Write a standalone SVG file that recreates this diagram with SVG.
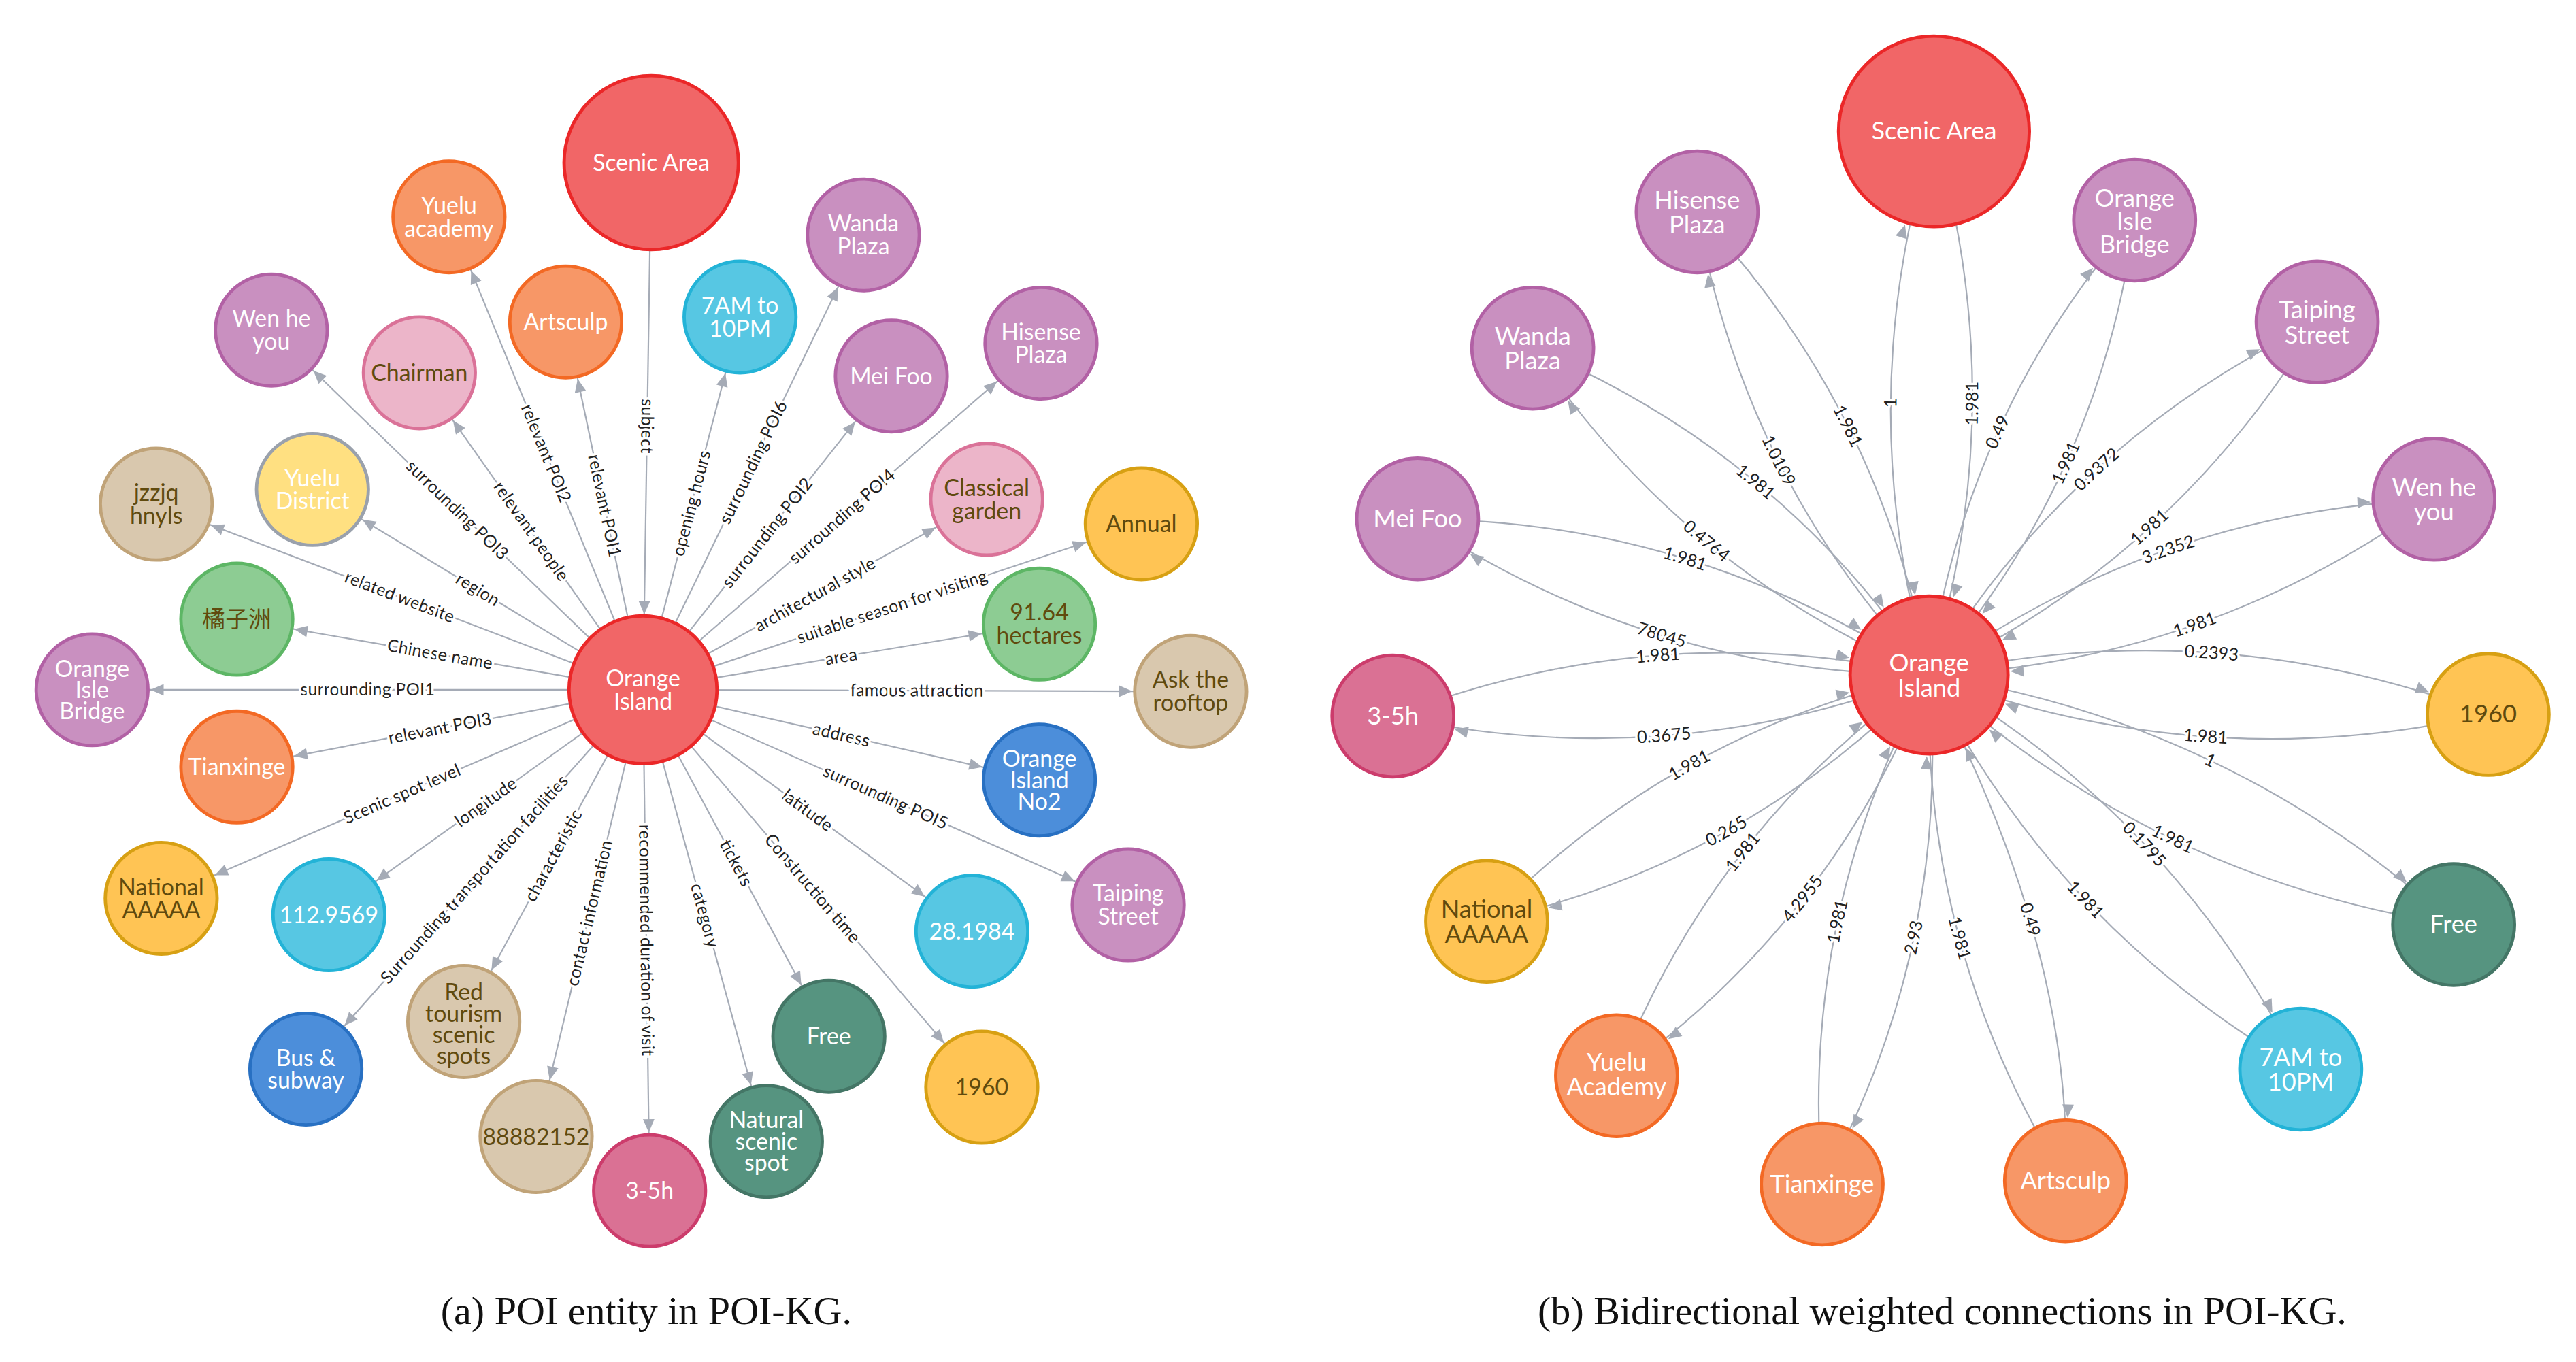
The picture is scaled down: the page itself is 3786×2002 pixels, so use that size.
<svg xmlns="http://www.w3.org/2000/svg" width="3786" height="2002" viewBox="0 0 3786 2002">
<style>
.e{fill:none;stroke:#A5ABB6;stroke-width:0.9}
.el{font-family:Lato,"Open Sans",sans-serif;font-size:10.5px;fill:#222;stroke:#fff;stroke-width:3px;paint-order:stroke;text-anchor:middle}
.er{font-family:Lato,"Open Sans",sans-serif;font-size:10.5px;fill:#222;stroke:#fff;stroke-width:3px;paint-order:stroke;text-anchor:middle}
.t{font-family:Lato,"Open Sans","Noto Sans CJK SC",sans-serif;font-size:14px;text-anchor:middle;fill:#fff}
.t2{font-family:Lato,"Open Sans",sans-serif;font-size:15px;text-anchor:middle;fill:#fff}
.dk{fill:#604A0E}
.red{fill:#F16667;stroke:#EB2728;stroke-width:2}
.org{fill:#F79767;stroke:#F36924;stroke-width:2}
.pur{fill:#C990C0;stroke:#B261A5;stroke-width:2}
.pnk{fill:#ECB5C9;stroke:#DA7298;stroke-width:2}
.cyn{fill:#57C7E3;stroke:#23B3D7;stroke-width:2}
.tan{fill:#D9C8AE;stroke:#C0A378;stroke-width:2}
.yel{fill:#FFC454;stroke:#D7A013;stroke-width:2}
.grn{fill:#8DCC93;stroke:#5DB665;stroke-width:2}
.blu{fill:#4C8EDA;stroke:#2870C2;stroke-width:2}
.dgr{fill:#569480;stroke:#447666;stroke-width:2}
.mag{fill:#DA7194;stroke:#CC3C6C;stroke-width:2}
.yd{fill:#FFE081;stroke:#9AA1AC;stroke-width:2}
.cap{font-family:"Liberation Serif",serif;font-size:24px;fill:#111;text-anchor:middle}
</style>
<defs>
<marker id="m34" markerUnits="userSpaceOnUse" orient="auto-start-reverse" overflow="visible" refX="0" refY="0" markerWidth="1" markerHeight="1"><path d="M-35.5,0 L-43.5,-3.5 L-43.5,3.5 z" fill="#A5ABB6"/></marker>
<marker id="m45" markerUnits="userSpaceOnUse" orient="auto-start-reverse" overflow="visible" refX="0" refY="0" markerWidth="1" markerHeight="1"><path d="M-46,0 L-54,-3.5 L-54,3.5 z" fill="#A5ABB6"/></marker>
<marker id="m37" markerUnits="userSpaceOnUse" orient="auto-start-reverse" overflow="visible" refX="0" refY="0" markerWidth="1" markerHeight="1"><path d="M-38.5,0 L-46.5,-3.5 L-46.5,3.5 z" fill="#A5ABB6"/></marker>
<marker id="m48" markerUnits="userSpaceOnUse" orient="auto-start-reverse" overflow="visible" refX="0" refY="0" markerWidth="1" markerHeight="1"><path d="M-49.5,0 L-57.5,-3.5 L-57.5,3.5 z" fill="#A5ABB6"/></marker>
<marker id="m58" markerUnits="userSpaceOnUse" orient="auto-start-reverse" overflow="visible" refX="0" refY="0" markerWidth="1" markerHeight="1"><path d="M-59.5,0 L-67.5,-3.5 L-67.5,3.5 z" fill="#A5ABB6"/></marker>
</defs>
<rect width="3786" height="2002" fill="#fff"/>
<g transform="scale(2.417,2.414)">
<g id="connectors">
<path id="e1" class="e" d="M165,201 L391,420" marker-start="url(#m34)"/>
<path id="e2" class="e" d="M273,132 L391,420" marker-start="url(#m34)"/>
<path id="e3" class="e" d="M255,227 L391,420" marker-start="url(#m34)"/>
<path id="e4" class="e" d="M344,196 L391,420" marker-start="url(#m34)"/>
<path id="e5" class="e" d="M396,99 L391,420" marker-end="url(#m45)"/>
<path id="e6" class="e" d="M391,420 L450,193" marker-end="url(#m34)"/>
<path id="e7" class="e" d="M391,420 L525,143" marker-end="url(#m34)"/>
<path id="e8" class="e" d="M391,420 L542,229" marker-end="url(#m34)"/>
<path id="e9" class="e" d="M391,420 L633,209" marker-end="url(#m34)"/>
<path id="e10" class="e" d="M391,420 L600,304" marker-end="url(#m34)"/>
<path id="e11" class="e" d="M391,420 L694,319" marker-end="url(#m34)"/>
<path id="e12" class="e" d="M391,420 L632,380" marker-end="url(#m34)"/>
<path id="e13" class="e" d="M391,420 L724,421" marker-end="url(#m34)"/>
<path id="e14" class="e" d="M391,420 L632,475" marker-end="url(#m34)"/>
<path id="e15" class="e" d="M391,420 L686,551" marker-end="url(#m34)"/>
<path id="e16" class="e" d="M391,420 L591,567" marker-end="url(#m34)"/>
<path id="e17" class="e" d="M391,420 L597,662" marker-end="url(#m34)"/>
<path id="e18" class="e" d="M391,420 L504,631" marker-end="url(#m34)"/>
<path id="e19" class="e" d="M391,420 L466,695" marker-end="url(#m34)"/>
<path id="e20" class="e" d="M391,420 L395,725" marker-end="url(#m34)"/>
<path id="e21" class="e" d="M326,692 L391,420" marker-start="url(#m34)"/>
<path id="e22" class="e" d="M282,622 L391,420" marker-start="url(#m34)"/>
<path id="e23" class="e" d="M186,651 L391,420" marker-start="url(#m34)"/>
<path id="e24" class="e" d="M200,557 L391,420" marker-start="url(#m34)"/>
<path id="e25" class="e" d="M98,547 L391,420" marker-start="url(#m34)"/>
<path id="e26" class="e" d="M144,467 L391,420" marker-start="url(#m34)"/>
<path id="e27" class="e" d="M56,420 L391,420" marker-start="url(#m34)"/>
<path id="e28" class="e" d="M144,377 L391,420" marker-start="url(#m34)"/>
<path id="e29" class="e" d="M95,307 L391,420" marker-start="url(#m34)"/>
<path id="e30" class="e" d="M190,298 L391,420" marker-start="url(#m34)"/>
<text class="el" dy="3.5"><textPath href="#e1" startOffset="50%">surrounding POI3</textPath></text>
<text class="el" dy="3.5"><textPath href="#e2" startOffset="50%">relevant POI2</textPath></text>
<text class="el" dy="3.5"><textPath href="#e3" startOffset="50%">relevant people</textPath></text>
<text class="el" dy="3.5"><textPath href="#e4" startOffset="50%">relevant POI1</textPath></text>
<text class="el" dy="3.5"><textPath href="#e5" startOffset="50%">subject</textPath></text>
<text class="el" dy="3.5"><textPath href="#e6" startOffset="50%">opening hours</textPath></text>
<text class="el" dy="3.5"><textPath href="#e7" startOffset="50%">surrounding POI6</textPath></text>
<text class="el" dy="3.5"><textPath href="#e8" startOffset="50%">surrounding POI2</textPath></text>
<text class="el" dy="3.5"><textPath href="#e9" startOffset="50%">surrounding POI4</textPath></text>
<text class="el" dy="3.5"><textPath href="#e10" startOffset="50%">architectural style</textPath></text>
<text class="el" dy="3.5"><textPath href="#e11" startOffset="50%">suitable season for visiting</textPath></text>
<text class="el" dy="3.5"><textPath href="#e12" startOffset="50%">area</textPath></text>
<text class="el" dy="3.5"><textPath href="#e13" startOffset="50%">famous attraction</textPath></text>
<text class="el" dy="3.5"><textPath href="#e14" startOffset="50%">address</textPath></text>
<text class="el" dy="3.5"><textPath href="#e15" startOffset="50%">surrounding POI5</textPath></text>
<text class="el" dy="3.5"><textPath href="#e16" startOffset="50%">latitude</textPath></text>
<text class="el" dy="3.5"><textPath href="#e17" startOffset="50%">Construction time</textPath></text>
<text class="el" dy="3.5"><textPath href="#e18" startOffset="50%">tickets</textPath></text>
<text class="el" dy="3.5"><textPath href="#e19" startOffset="50%">category</textPath></text>
<text class="el" dy="3.5"><textPath href="#e20" startOffset="50%">recommended duration of visit</textPath></text>
<text class="el" dy="3.5"><textPath href="#e21" startOffset="50%">contact information</textPath></text>
<text class="el" dy="3.5"><textPath href="#e22" startOffset="50%">characteristic</textPath></text>
<text class="el" dy="3.5"><textPath href="#e23" startOffset="50%">Surrounding transportation facilities</textPath></text>
<text class="el" dy="3.5"><textPath href="#e24" startOffset="50%">longitude</textPath></text>
<text class="el" dy="3.5"><textPath href="#e25" startOffset="50%">Scenic spot level</textPath></text>
<text class="el" dy="3.5"><textPath href="#e26" startOffset="50%">relevant POI3</textPath></text>
<text class="el" dy="3.5"><textPath href="#e27" startOffset="50%">surrounding POI1</textPath></text>
<text class="el" dy="3.5"><textPath href="#e28" startOffset="50%">Chinese name</textPath></text>
<text class="el" dy="3.5"><textPath href="#e29" startOffset="50%">related website</textPath></text>
<text class="el" dy="3.5"><textPath href="#e30" startOffset="50%">region</textPath></text>

<path id="r1a" class="e" d="M1173,411 Q1224.2,246 1176,80" marker-start="url(#m48)"/>
<path id="r1b" class="e" d="M1173,411 Q1124.9,245.1 1176,80" marker-end="url(#m58)"/>
<path id="r2a" class="e" d="M1032,129 Q1060.2,291.2 1173,411" marker-start="url(#m37)"/>
<path id="r2b" class="e" d="M1032,129 Q1144.8,248.8 1173,411" marker-end="url(#m48)"/>
<path id="r3a" class="e" d="M932,212 Q1022.6,347.7 1173,411" marker-start="url(#m37)"/>
<path id="r3b" class="e" d="M932,212 Q1082.4,275.3 1173,411" marker-end="url(#m48)"/>
<path id="r4a" class="e" d="M862,316 Q1003.2,410.2 1173,411" marker-start="url(#m37)"/>
<path id="r4b" class="e" d="M862,316 Q1031.8,316.8 1173,411" marker-end="url(#m48)"/>
<path id="r5a" class="e" d="M847,436 Q1013.8,472.4 1173,411" marker-start="url(#m37)"/>
<path id="r5b" class="e" d="M847,436 Q1006.3,374.6 1173,411" marker-end="url(#m48)"/>
<path id="r6a" class="e" d="M904,561 Q1061,526.4 1173,411" marker-start="url(#m37)"/>
<path id="r6b" class="e" d="M904,561 Q1016,445.6 1173,411" marker-end="url(#m48)"/>
<path id="r7a" class="e" d="M983,655 Q1114.6,561.5 1173,411" marker-start="url(#m37)"/>
<path id="r7b" class="e" d="M983,655 Q1041.4,504.5 1173,411" marker-end="url(#m48)"/>
<path id="r8a" class="e" d="M1108,721 Q1187,575.8 1173,411" marker-start="url(#m37)"/>
<path id="r8b" class="e" d="M1108,721 Q1094,556.3 1173,411" marker-end="url(#m48)"/>
<path id="r9a" class="e" d="M1173,411 Q1168.3,577.5 1256,719" marker-start="url(#m48)"/>
<path id="r9b" class="e" d="M1173,411 Q1260.7,577.5 1256,719" marker-end="url(#m37)"/>
<path id="r10a" class="e" d="M1173,411 Q1250,564.9 1399,651" marker-start="url(#m48)"/>
<path id="r10b" class="e" d="M1173,411 Q1322,497.1 1399,651" marker-end="url(#m37)"/>
<path id="r11a" class="e" d="M1173,411 Q1309.7,534.9 1492,563" marker-start="url(#m48)"/>
<path id="r11b" class="e" d="M1173,411 Q1355.3,439.1 1492,563" marker-end="url(#m37)"/>
<path id="r12a" class="e" d="M1173,411 Q1339.4,474 1513,435" marker-start="url(#m48)"/>
<path id="r12b" class="e" d="M1173,411 Q1346.6,372 1513,435" marker-end="url(#m37)"/>
<path id="r13a" class="e" d="M1173,411 Q1342.5,403.5 1480,304" marker-start="url(#m48)"/>
<path id="r13b" class="e" d="M1173,411 Q1310.5,311.5 1480,304" marker-end="url(#m37)"/>
<path id="r14a" class="e" d="M1173,411 Q1323.3,338.9 1409,196" marker-start="url(#m48)"/>
<path id="r14b" class="e" d="M1173,411 Q1258.7,268.1 1409,196" marker-end="url(#m37)"/>
<path id="r15a" class="e" d="M1173,411 Q1277.1,291.3 1298,134" marker-start="url(#m48)"/>
<path id="r15b" class="e" d="M1173,411 Q1193.9,253.8 1298,134" marker-end="url(#m37)"/>
<text class="er" dy="3.5"><textPath href="#r1a" startOffset="50%">1.981</textPath></text>
<text class="er" dy="3.5"><textPath href="#r1b" startOffset="50%">1</textPath></text>
<text class="er" dy="3.5"><textPath href="#r2a" startOffset="50%">1.0109</textPath></text>
<text class="er" dy="3.5"><textPath href="#r2b" startOffset="50%">1.981</textPath></text>
<text class="er" dy="3.5"><textPath href="#r3a" startOffset="50%">0.4764</textPath></text>
<text class="er" dy="3.5"><textPath href="#r3b" startOffset="50%">1.981</textPath></text>
<text class="er" dy="3.5"><textPath href="#r4a" startOffset="50%">78045</textPath></text>
<text class="er" dy="3.5"><textPath href="#r4b" startOffset="50%">1.981</textPath></text>
<text class="er" dy="3.5"><textPath href="#r5a" startOffset="50%">0.3675</textPath></text>
<text class="er" dy="3.5"><textPath href="#r5b" startOffset="50%">1.981</textPath></text>
<text class="er" dy="3.5"><textPath href="#r6a" startOffset="50%">0.265</textPath></text>
<text class="er" dy="3.5"><textPath href="#r6b" startOffset="50%">1.981</textPath></text>
<text class="er" dy="3.5"><textPath href="#r7a" startOffset="50%">4.2955</textPath></text>
<text class="er" dy="3.5"><textPath href="#r7b" startOffset="50%">1.981</textPath></text>
<text class="er" dy="3.5"><textPath href="#r8a" startOffset="50%">2.93</textPath></text>
<text class="er" dy="3.5"><textPath href="#r8b" startOffset="50%">1.981</textPath></text>
<text class="er" dy="3.5"><textPath href="#r9a" startOffset="50%">1.981</textPath></text>
<text class="er" dy="3.5"><textPath href="#r9b" startOffset="50%">0.49</textPath></text>
<text class="er" dy="3.5"><textPath href="#r10a" startOffset="50%">1.981</textPath></text>
<text class="er" dy="3.5"><textPath href="#r10b" startOffset="50%">0.1795</textPath></text>
<text class="er" dy="3.5"><textPath href="#r11a" startOffset="50%">1.981</textPath></text>
<text class="er" dy="3.5"><textPath href="#r11b" startOffset="50%">1</textPath></text>
<text class="er" dy="3.5"><textPath href="#r12a" startOffset="50%">1.981</textPath></text>
<text class="er" dy="3.5"><textPath href="#r12b" startOffset="50%">0.2393</textPath></text>
<text class="er" dy="3.5"><textPath href="#r13a" startOffset="50%">1.981</textPath></text>
<text class="er" dy="3.5"><textPath href="#r13b" startOffset="50%">3.2352</textPath></text>
<text class="er" dy="3.5"><textPath href="#r14a" startOffset="50%">1.981</textPath></text>
<text class="er" dy="3.5"><textPath href="#r14b" startOffset="50%">0.9372</textPath></text>
<text class="er" dy="3.5"><textPath href="#r15a" startOffset="50%">1.981</textPath></text>
<text class="er" dy="3.5"><textPath href="#r15b" startOffset="50%">0.49</textPath></text>
</g>

<g id="a-scenic"><circle class="red" cx="396" cy="99" r="53"/><text class="t" x="396" y="104">Scenic Area</text></g>
<g id="a-center"><circle class="red" cx="391" cy="420" r="45"/><text class="t" x="391" y="418">Orange</text><text class="t" x="391" y="432">Island</text></g>
<g id="a-yuelu-academy"><circle class="org" cx="273" cy="132" r="34"/><text class="t" x="273" y="130">Yuelu</text><text class="t" x="273" y="144">academy</text></g>
<g id="a-artsculp"><circle class="org" cx="344" cy="196" r="34"/><text class="t" x="344" y="201">Artsculp</text></g>
<g id="a-wenheyou"><circle class="pur" cx="165" cy="201" r="34"/><text class="t" x="165" y="199">Wen he</text><text class="t" x="165" y="213">you</text></g>
<g id="a-chairman"><circle class="pnk" cx="255" cy="227" r="34"/><text class="t dk" x="255" y="232">Chairman</text></g>
<g id="a-7am"><circle class="cyn" cx="450" cy="193" r="34"/><text class="t" x="450" y="191">7AM to</text><text class="t" x="450" y="205">10PM</text></g>
<g id="a-wanda"><circle class="pur" cx="525" cy="143" r="34"/><text class="t" x="525" y="141">Wanda</text><text class="t" x="525" y="155">Plaza</text></g>
<g id="a-meifoo"><circle class="pur" cx="542" cy="229" r="34"/><text class="t" x="542" y="234">Mei Foo</text></g>
<g id="a-hisense"><circle class="pur" cx="633" cy="209" r="34"/><text class="t" x="633" y="207">Hisense</text><text class="t" x="633" y="221">Plaza</text></g>
<g id="a-jzzjq"><circle class="tan" cx="95" cy="307" r="34"/><text class="t dk" x="95" y="305">jzzjq</text><text class="t dk" x="95" y="319">hnyls</text></g>
<g id="a-yuelu-district"><circle class="yd" cx="190" cy="298" r="34"/><text class="t" x="190" y="296">Yuelu</text><text class="t" x="190" y="310">District</text></g>
<g id="a-classical"><circle class="pnk" cx="600" cy="304" r="34"/><text class="t dk" x="600" y="302">Classical</text><text class="t dk" x="600" y="316">garden</text></g>
<g id="a-annual"><circle class="yel" cx="694" cy="319" r="34"/><text class="t dk" x="694" y="324">Annual</text></g>
<g id="a-juzizhou"><circle class="grn" cx="144" cy="377" r="34"/><text class="t dk" x="144" y="382">橘子洲</text></g>
<g id="a-oib"><circle class="pur" cx="56" cy="420" r="34"/><text class="t" x="56" y="412">Orange</text><text class="t" x="56" y="425">Isle</text><text class="t" x="56" y="438">Bridge</text></g>
<g id="a-area"><circle class="grn" cx="632" cy="380" r="34"/><text class="t dk" x="632" y="378">91.64</text><text class="t dk" x="632" y="392">hectares</text></g>
<g id="a-rooftop"><circle class="tan" cx="724" cy="421" r="34"/><text class="t dk" x="724" y="419">Ask the</text><text class="t dk" x="724" y="433">rooftop</text></g>
<g id="a-tianxinge"><circle class="org" cx="144" cy="467" r="34"/><text class="t" x="144" y="472">Tianxinge</text></g>
<g id="a-oino2"><circle class="blu" cx="632" cy="475" r="34"/><text class="t" x="632" y="467">Orange</text><text class="t" x="632" y="480">Island</text><text class="t" x="632" y="493">No2</text></g>
<g id="a-national"><circle class="yel" cx="98" cy="547" r="34"/><text class="t dk" x="98" y="545">National</text><text class="t dk" x="98" y="559">AAAAA</text></g>
<g id="a-lon"><circle class="cyn" cx="200" cy="557" r="34"/><text class="t" x="200" y="562">112.9569</text></g>
<g id="a-lat"><circle class="cyn" cx="591" cy="567" r="34"/><text class="t" x="591" y="572">28.1984</text></g>
<g id="a-taiping"><circle class="pur" cx="686" cy="551" r="34"/><text class="t" x="686" y="549">Taiping</text><text class="t" x="686" y="563">Street</text></g>
<g id="a-bus"><circle class="blu" cx="186" cy="651" r="34"/><text class="t" x="186" y="649">Bus &amp;</text><text class="t" x="186" y="663">subway</text></g>
<g id="a-red"><circle class="tan" cx="282" cy="622" r="34"/><text class="t dk" x="282" y="609">Red</text><text class="t dk" x="282" y="622">tourism</text><text class="t dk" x="282" y="635">scenic</text><text class="t dk" x="282" y="648">spots</text></g>
<g id="a-free"><circle class="dgr" cx="504" cy="631" r="34"/><text class="t" x="504" y="636">Free</text></g>
<g id="a-1960"><circle class="yel" cx="597" cy="662" r="34"/><text class="t dk" x="597" y="667">1960</text></g>
<g id="a-phone"><circle class="tan" cx="326" cy="692" r="34"/><text class="t dk" x="326" y="697">88882152</text></g>
<g id="a-35h"><circle class="mag" cx="395" cy="725" r="34"/><text class="t" x="395" y="730">3-5h</text></g>
<g id="a-natural"><circle class="dgr" cx="466" cy="695" r="34"/><text class="t" x="466" y="687">Natural</text><text class="t" x="466" y="700">scenic</text><text class="t" x="466" y="713">spot</text></g>

<g id="b-scenic"><circle class="red" cx="1176" cy="80" r="58"/><text class="t2" x="1176" y="85">Scenic Area</text></g>
<g id="b-center"><circle class="red" cx="1173" cy="411" r="48"/><text class="t2" x="1173" y="409">Orange</text><text class="t2" x="1173" y="424">Island</text></g>
<g id="b-hisense"><circle class="pur" cx="1032" cy="129" r="37"/><text class="t2" x="1032" y="127">Hisense</text><text class="t2" x="1032" y="142">Plaza</text></g>
<g id="b-oib"><circle class="pur" cx="1298" cy="134" r="37"/><text class="t2" x="1298" y="126">Orange</text><text class="t2" x="1298" y="140">Isle</text><text class="t2" x="1298" y="154">Bridge</text></g>
<g id="b-wanda"><circle class="pur" cx="932" cy="212" r="37"/><text class="t2" x="932" y="210">Wanda</text><text class="t2" x="932" y="225">Plaza</text></g>
<g id="b-taiping"><circle class="pur" cx="1409" cy="196" r="37"/><text class="t2" x="1409" y="194">Taiping</text><text class="t2" x="1409" y="209">Street</text></g>
<g id="b-meifoo"><circle class="pur" cx="862" cy="316" r="37"/><text class="t2" x="862" y="321">Mei Foo</text></g>
<g id="b-wenheyou"><circle class="pur" cx="1480" cy="304" r="37"/><text class="t2" x="1480" y="302">Wen he</text><text class="t2" x="1480" y="317">you</text></g>
<g id="b-35h"><circle class="mag" cx="847" cy="436" r="37"/><text class="t2" x="847" y="441">3-5h</text></g>
<g id="b-1960"><circle class="yel" cx="1513" cy="435" r="37"/><text class="t2 dk" x="1513" y="440">1960</text></g>
<g id="b-national"><circle class="yel" cx="904" cy="561" r="37"/><text class="t2 dk" x="904" y="559">National</text><text class="t2 dk" x="904" y="574">AAAAA</text></g>
<g id="b-free"><circle class="dgr" cx="1492" cy="563" r="37"/><text class="t2" x="1492" y="568">Free</text></g>
<g id="b-yuelu"><circle class="org" cx="983" cy="655" r="37"/><text class="t2" x="983" y="652">Yuelu</text><text class="t2" x="983" y="667">Academy</text></g>
<g id="b-7am"><circle class="cyn" cx="1399" cy="651" r="37"/><text class="t2" x="1399" y="649">7AM to</text><text class="t2" x="1399" y="664">10PM</text></g>
<g id="b-tianxinge"><circle class="org" cx="1108" cy="721" r="37"/><text class="t2" x="1108" y="726">Tianxinge</text></g>
<g id="b-artsculp"><circle class="org" cx="1256" cy="719" r="37"/><text class="t2" x="1256" y="724">Artsculp</text></g>

<text class="cap" x="393" y="806">(a) POI entity in POI-KG.</text>
<text class="cap" x="1181" y="806">(b) Bidirectional weighted connections in POI-KG.</text>
</g>
</svg>
